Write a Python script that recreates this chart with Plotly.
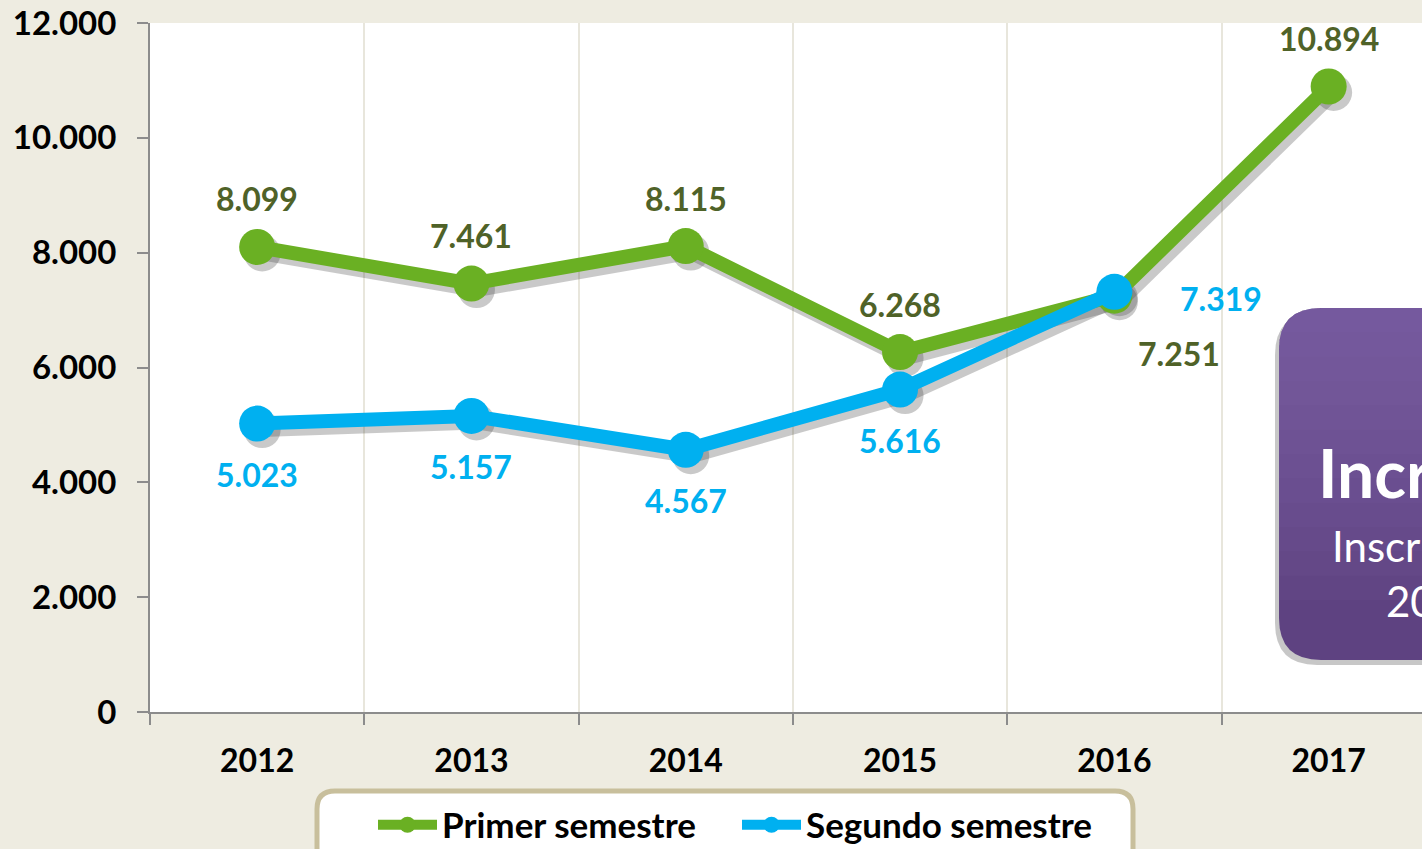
import plotly.graph_objects as go

years = ["2012", "2013", "2014", "2015", "2016", "2017"]
primer = [8099, 7461, 8115, 6268, 7251, 10894]
segundo = [5023, 5157, 4567, 5616, 7319]
primer_labels = ["8.099", "7.461", "8.115", "6.268", "7.251", "10.894"]
segundo_labels = ["5.023", "5.157", "4.567", "5.616", "7.319"]
y_ticks = [0, 2000, 4000, 6000, 8000, 10000, 12000]
y_ticktext = ["0", "2.000", "4.000", "6.000", "8.000", "10.000", "12.000"]

GREEN = "#6AB023"
BLUE = "#00B0F0"
GREEN_TXT = "#4F6228"
AXIS = "#8C8C8C"
FONT = "Lato"

W, H = 1422, 849
ML, MR, MT, MB = 150, 0, 23, 137
plot_w = W - ML - MR
plot_h = H - MT - MB
cat_px = 214.3
x_range = [-0.5, -0.5 + plot_w / cat_px]
y_range = [0, 12000]

xi = list(range(len(years)))

fig = go.Figure()

# soft drop shadows, drawn on hidden base axes shifted by a few pixels
sdx = 5 / cat_px
sdy = 6 * 12000 / plot_h
for vals in (primer, segundo):
    fig.add_trace(go.Scatter(
        x=xi[:len(vals)], y=vals, mode="lines+markers",
        line=dict(color="rgba(60,60,60,0.28)", width=15),
        marker=dict(size=37, color="rgba(60,60,60,0.28)"),
        xaxis="x", yaxis="y", showlegend=False, hoverinfo="skip"))

fig.add_trace(go.Scatter(
    x=xi, y=primer, mode="lines+markers", name="Primer semestre",
    xaxis="x2", yaxis="y2",
    line=dict(color=GREEN, width=14), marker=dict(size=36, color=GREEN)))
fig.add_trace(go.Scatter(
    x=xi[:len(segundo)], y=segundo, mode="lines+markers", name="Segundo semestre",
    xaxis="x2", yaxis="y2",
    line=dict(color=BLUE, width=14), marker=dict(size=36, color=BLUE)))

annotations = []
for i, (v, t) in enumerate(zip(primer, primer_labels)):
    xs, ys = (0, 48)
    if i == 4:
        xs, ys = (65, -58)
    annotations.append(dict(x=i, y=v, xref="x2", yref="y2", text=t, showarrow=False,
                            xshift=xs, yshift=ys,
                            font=dict(family=FONT, size=32, color=GREEN_TXT, weight="bold")))
for i, (v, t) in enumerate(zip(segundo, segundo_labels)):
    xs, ys = (0, -51)
    if i == 4:
        xs, ys = (107, -7)
    annotations.append(dict(x=i, y=v, xref="x2", yref="y2", text=t, showarrow=False,
                            xshift=xs, yshift=ys,
                            font=dict(family=FONT, size=32, color=BLUE, weight="bold")))


def px2paper_x(px):
    return (px - ML) / plot_w


def px2paper_y(py):
    return (H - MB - py) / plot_h


def rounded_path(x0, y0, x1, y1, r, bottom_round=True):
    X = px2paper_x
    Y = px2paper_y
    p = (f"M {X(x0 + r)} {Y(y0)} L {X(x1 - r)} {Y(y0)} Q {X(x1)} {Y(y0)} {X(x1)} {Y(y0 + r)} ")
    if bottom_round:
        p += (f"L {X(x1)} {Y(y1 - r)} Q {X(x1)} {Y(y1)} {X(x1 - r)} {Y(y1)} "
              f"L {X(x0 + r)} {Y(y1)} Q {X(x0)} {Y(y1)} {X(x0)} {Y(y1 - r)} ")
    else:
        p += f"L {X(x1)} {Y(y1)} L {X(x0)} {Y(y1)} "
    p += f"L {X(x0)} {Y(y0 + r)} Q {X(x0)} {Y(y0)} {X(x0 + r)} {Y(y0)} Z"
    return p


shapes = []
# purple box: shadow, base, gradient overlays
BX0, BY0, BX1, BY1, BR = 1279, 308, 1560, 660, 42
shapes.append(dict(type="path", xref="paper", yref="paper", layer="above",
                   path=rounded_path(BX0 - 4, BY0 + 5, BX1, BY1 + 5, BR),
                   fillcolor="rgba(0,0,0,0.22)", line=dict(width=0)))
shapes.append(dict(type="path", xref="paper", yref="paper", layer="above",
                   path=rounded_path(BX0, BY0, BX1, BY1, BR),
                   fillcolor="#5E4281", line=dict(width=0)))
n_bands = 12
for k in range(1, n_bands + 1):
    yb = BY0 + (600 - BY0) * k / n_bands
    shapes.append(dict(type="path", xref="paper", yref="paper", layer="above",
                       path=rounded_path(BX0, BY0, BX1, yb, BR, bottom_round=False),
                       fillcolor="rgba(140,110,190,0.07)", line=dict(width=0)))
# legend frame
shapes.append(dict(type="path", xref="paper", yref="paper", layer="above",
                   path=rounded_path(317, 791, 1133, 880, 18),
                   fillcolor="white", line=dict(color="#C8BF9C", width=5)))

annotations += [
    dict(xref="paper", yref="paper", x=px2paper_x(1316), y=px2paper_y(472), xanchor="left",
         yanchor="middle", text="<b>Incremento</b>", showarrow=False,
         font=dict(family=FONT, size=66, color="white")),
    dict(xref="paper", yref="paper", x=px2paper_x(1330), y=px2paper_y(546), xanchor="left",
         yanchor="middle", text="Inscripciones", showarrow=False,
         font=dict(family=FONT, size=42, color="white")),
    dict(xref="paper", yref="paper", x=px2paper_x(1384), y=px2paper_y(601), xanchor="left",
         yanchor="middle", text="2017", showarrow=False,
         font=dict(family=FONT, size=42, color="white")),
]

fig.update_layout(
    width=W, height=H,
    margin=dict(l=ML, r=MR, t=MT, b=MB, pad=0, autoexpand=False),
    paper_bgcolor="#EEECE1",
    plot_bgcolor="white",
    font=dict(family=FONT, color="black"),
    showlegend=True,
    legend=dict(orientation="h", x=px2paper_x(373), xanchor="left",
                y=px2paper_y(825), yanchor="middle", bgcolor="rgba(0,0,0,0)",
                font=dict(family=FONT, size=35, color="black", weight="bold"),
                itemwidth=59, entrywidth=290, tracegroupgap=0),
    xaxis=dict(range=[x_range[0] - sdx, x_range[1] - sdx], visible=False),
    yaxis=dict(range=[y_range[0] + sdy, y_range[1] + sdy], visible=False),
    xaxis2=dict(range=x_range, overlaying="x", anchor="y2", side="bottom",
                tickmode="array", tickvals=xi, ticktext=years,
                ticks="", showgrid=False, zeroline=False,
                showline=True, linecolor=AXIS, linewidth=2,
                tickfont=dict(family=FONT, size=32, color="black", weight="bold"),
                ticklabelstandoff=20,
                minor=dict(tick0=-0.5, dtick=1, ticks="outside", ticklen=11,
                           tickcolor=AXIS, tickwidth=2,
                           showgrid=True, gridcolor="#E8E6DC", gridwidth=2)),
    yaxis2=dict(range=y_range, overlaying="y", anchor="x2", side="left",
                tickmode="array", tickvals=y_ticks, ticktext=y_ticktext,
                ticks="outside", ticklen=11, tickcolor=AXIS, tickwidth=2,
                showgrid=False, zeroline=False,
                showline=True, linecolor=AXIS, linewidth=2,
                tickfont=dict(family=FONT, size=33, color="black", weight="bold"),
                ticklabelstandoff=14),
    shapes=shapes,
    annotations=annotations,
)

fig.write_html("out.html", config={"displayModeBar": False},
               post_script="document.body.style.margin='0';")
